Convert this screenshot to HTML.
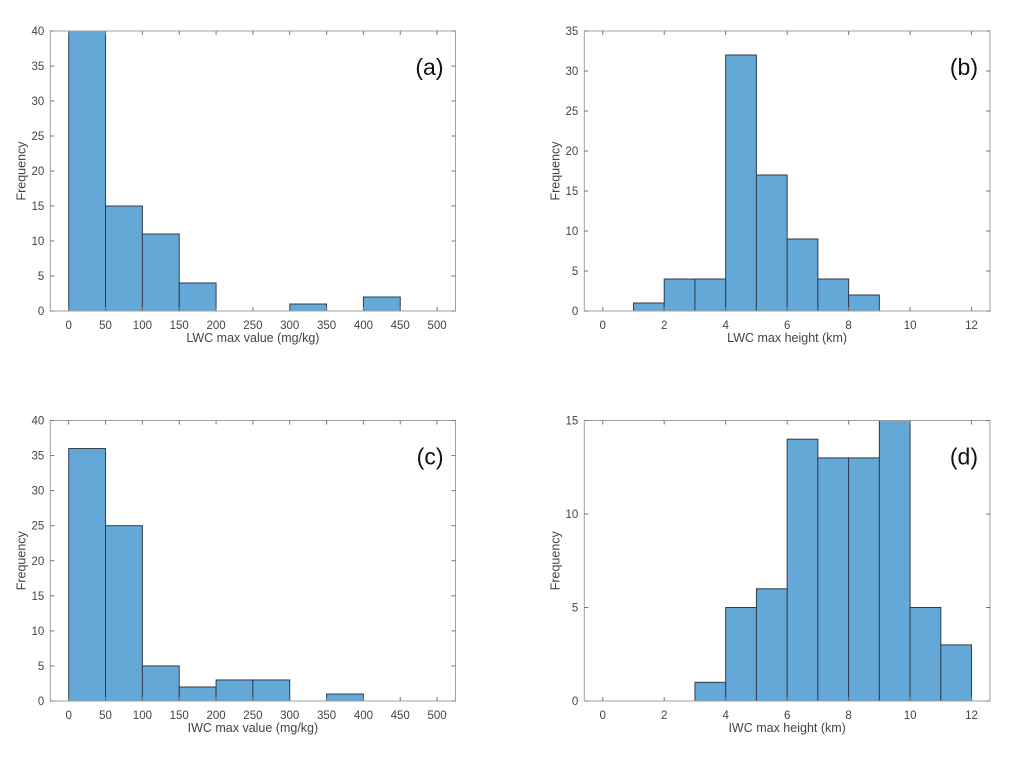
<!DOCTYPE html>
<html><head><meta charset="utf-8"><style>
html,body{margin:0;padding:0;background:#fff;}
svg{display:block;font-family:"Liberation Sans",sans-serif;}
</style></head><body>
<svg id="fig" width="1021" height="763"></svg>
<script>
const aEdges=[0,50,100,150,200,250,300,350,400,450,500];
const aCounts=[40,15,11,4,0,0,1,0,2,0];
const bEdges=[1,2,3,4,5,6,7,8,9];
const bCounts=[1,4,4,32,17,9,4,2];
const cEdges=[0,50,100,150,200,250,300,350,400];
const cCounts=[36,25,5,2,3,3,0,1];
const dEdges=[3,4,5,6,7,8,9,10,11,12];
const dCounts=[1,5,6,14,13,13,15,5,3];
const xTicksValue=[0,50,100,150,200,250,300,350,400,450,500];
const xTicksHeight=[0,2,4,6,8,10,12];
const yTicksA=[0,5,10,15,20,25,30,35,40];
const yTicksB=[0,5,10,15,20,25,30,35];
const yTicksD=[0,5,10,15];

const NS="http://www.w3.org/2000/svg";
const svg=document.getElementById('fig');
function mk(t,a,p){const e=document.createElementNS(NS,t);for(const k in a)e.setAttribute(k,a[k]);(p||svg).appendChild(e);return e;}

function panel(o){
  const g=mk('g',{});
  
  
  const X=v=>o.L+(v-o.xmin)/(o.xmax-o.xmin)*(o.R-o.L);
  const Y=v=>o.B-(v-o.ymin)/(o.ymax-o.ymin)*(o.B-o.T);
  // bars
  for(let i=0;i<o.counts.length;i++){
    if(o.counts[i]<=0)continue;
    const v=Math.min(o.counts[i],o.ymax);
    const r=mk('rect',{x:X(o.edges[i]),y:Y(v),width:X(o.edges[i+1])-X(o.edges[i]),height:Y(0)-Y(v),fill:'#64a8d8',stroke:'#2e3d4c','stroke-width':1},g);
    
    
  }
  const box=mk('rect',{x:o.L,y:o.T,width:o.R-o.L,height:o.B-o.T,fill:'none',stroke:'#a0a0a0','stroke-width':1},g);
  
  
  o.xt.forEach(v=>{
    const x=X(v);
    mk('line',{x1:x,x2:x,y1:o.B,y2:o.B-4,stroke:'#777'},g);
    mk('line',{x1:x,x2:x,y1:o.T,y2:o.T+4,stroke:'#777'},g);
    const t=mk('text',{x:x,y:o.B+18,'text-anchor':'middle','font-size':11.5,fill:'#444'},g);
    t.textContent=v;
    
    
  });
  o.yt.forEach(v=>{
    const y=Y(v);
    mk('line',{x1:o.L,x2:o.L+4,y1:y,y2:y,stroke:'#777'},g);
    mk('line',{x1:o.R,x2:o.R-4,y1:y,y2:y,stroke:'#777'},g);
    const t=mk('text',{x:o.L-6,y:y+4,'text-anchor':'end','font-size':11.5,fill:'#444'},g);
    t.textContent=v;
    
    
  });
  const xl=mk('text',{x:(o.L+o.R)/2,y:o.B+31,'text-anchor':'middle','font-size':12.5,fill:'#444'},g);
  xl.textContent=o.xlabel;
  
  
  const yl=mk('text',{x:0,y:0,'text-anchor':'middle','font-size':12.5,fill:'#444',transform:`translate(${o.L-25},${(o.T+o.B)/2}) rotate(-90)`},g);
  yl.textContent='Frequency';
  
  
  const pl=mk('text',{x:o.R-12,y:o.T+44,'text-anchor':'end','font-size':23,fill:'#111'},g);
  pl.textContent=o.tag;
  
  
}
panel({name:'panel-a',L:50.3,R:455.5,T:31,B:311,xmin:-25,xmax:525,ymin:0,ymax:40,edges:aEdges,counts:aCounts,xt:xTicksValue,yt:yTicksA,xlabel:'LWC max value (mg/kg)',tag:'(a)'});
panel({name:'panel-b',L:584.3,R:990,T:31,B:311,xmin:-0.6,xmax:12.6,ymin:0,ymax:35,edges:bEdges,counts:bCounts,xt:xTicksHeight,yt:yTicksB,xlabel:'LWC max height (km)',tag:'(b)'});
panel({name:'panel-c',L:50.3,R:455.5,T:420.5,B:701,xmin:-25,xmax:525,ymin:0,ymax:40,edges:cEdges,counts:cCounts,xt:xTicksValue,yt:yTicksA,xlabel:'IWC max value (mg/kg)',tag:'(c)'});
panel({name:'panel-d',L:584.3,R:990,T:420.5,B:701,xmin:-0.6,xmax:12.6,ymin:0,ymax:15,edges:dEdges,counts:dCounts,xt:xTicksHeight,yt:yTicksD,xlabel:'IWC max height (km)',tag:'(d)'});
</script>
</body></html>
